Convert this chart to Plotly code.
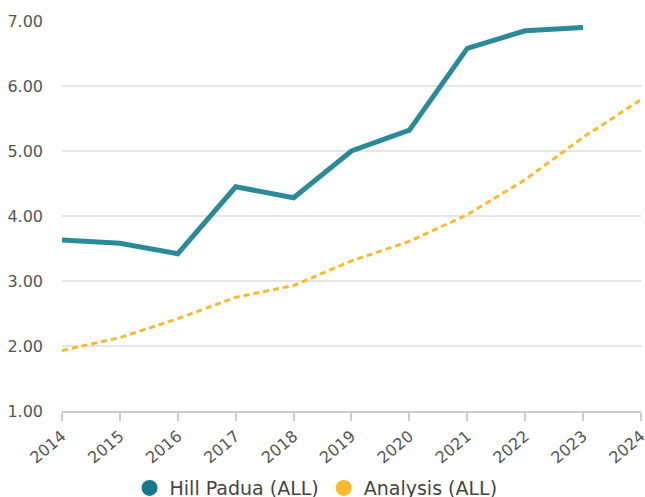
import plotly.graph_objects as go

years = [2014, 2015, 2016, 2017, 2018, 2019, 2020, 2021, 2022, 2023, 2024]
hill_years = [2014, 2015, 2016, 2017, 2018, 2019, 2020, 2021, 2022, 2023]
hill_values = [3.63, 3.58, 3.42, 4.45, 4.28, 5.00, 5.32, 6.58, 6.85, 6.90]
analysis_values = [1.93, 2.13, 2.42, 2.75, 2.93, 3.31, 3.61, 4.02, 4.56, 5.21, 5.79]
y_ticks = [1, 2, 3, 4, 5, 6, 7]

TEAL = "#2B8A9A"
TEAL_DARK = "#16788A"
ORANGE = "#FDB92E"
FONT = "DejaVu Sans"

fig = go.Figure()
fig.add_trace(go.Scatter(x=years, y=analysis_values, mode="lines",
                         line=dict(color=ORANGE, width=3, dash="6px,4px"),
                         showlegend=False, name="Analysis (ALL)"))
fig.add_trace(go.Scatter(x=hill_years, y=hill_values, mode="lines",
                         line=dict(color=TEAL, width=5),
                         showlegend=False, name="Hill Padua (ALL)"))
# legend entries (circle markers)
fig.add_trace(go.Scatter(x=[None], y=[None], mode="markers",
                         marker=dict(color=TEAL_DARK, size=16),
                         name="Hill Padua (ALL)"))
fig.add_trace(go.Scatter(x=[None], y=[None], mode="markers",
                         marker=dict(color=ORANGE, size=16),
                         name="Analysis (ALL)"))

fig.update_layout(
    width=645, height=497,
    margin=dict(l=62, r=4, t=21, b=86),
    plot_bgcolor="white", paper_bgcolor="white",
    font=dict(family=FONT, color="#555555", size=16),
    legend=dict(orientation="h", xref="container", yref="container",
                x=0.49, xanchor="center", y=0.018, yanchor="middle",
                font=dict(family=FONT, size=19, color="#444444"),
                itemwidth=30, tracegroupgap=0),
    xaxis=dict(range=[2014, 2024.0005], tickmode="array", tickvals=years,
               ticktext=[str(y) for y in years], tickangle=-40,
               ticklabeloverflow="allow",
               showgrid=False, showline=True, linecolor="#cccccc", linewidth=1.5,
               ticks="outside", ticklen=8, tickcolor="#cccccc", tickwidth=1.5,
               zeroline=False, automargin=False,
               tickfont=dict(family=FONT, size=16, color="#555555")),
    yaxis=dict(range=[1, 7], tickmode="array", tickvals=y_ticks,
               ticktext=[f"{v:.2f}" for v in y_ticks],
               showgrid=True, gridcolor="#e6e6e6", gridwidth=1.5,
               showline=False, zeroline=False, ticks="", ticklabelstandoff=18,
               automargin=False,
               tickfont=dict(family=FONT, size=16, color="#555555")),
)

fig.write_html("out.html", config={"displayModeBar": False},
               post_script="document.body.style.margin='0';document.body.style.overflow='hidden';")
